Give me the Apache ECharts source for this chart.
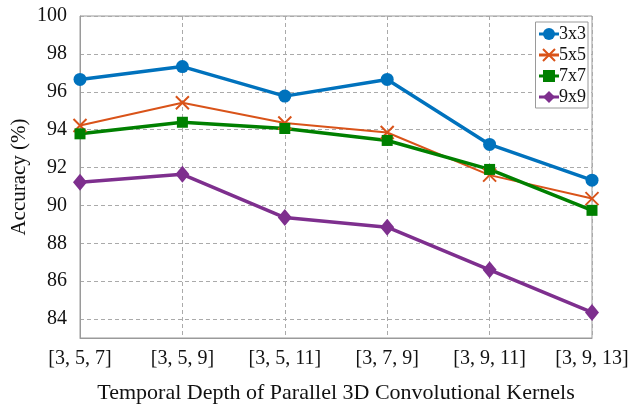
<!DOCTYPE html>
<html><head><meta charset="utf-8">
<script src="https://cdn.jsdelivr.net/npm/echarts@6/dist/echarts.min.js"></script>
<style>html,body{margin:0;padding:0;background:#fff}#c{width:632px;height:404px}</style>
</head><body><div id="c"></div>
<script>
const categories = ['[3, 5, 7]', '[3, 5, 9]', '[3, 5, 11]', '[3, 7, 9]', '[3, 9, 11]', '[3, 9, 13]'];
const s3x3 = [96.65, 97.33, 95.77, 96.65, 93.22, 91.33];
const s5x5 = [94.22, 95.42, 94.35, 93.85, 91.6, 90.36];
const s7x7 = [93.78, 94.39, 94.06, 93.43, 91.9, 89.74];
const s9x9 = [91.22, 91.64, 89.36, 88.85, 86.6, 84.35];
const yTicks = [84, 86, 88, 90, 92, 94, 96, 98, 100];
const font = 'Liberation Serif';
const chart = echarts.init(document.getElementById('c'));
const xPath = 'path://M0,0 L10,10 M10,0 L0,10';
chart.setOption({
  animation: false,
  grid: {left: 80, right: 40, top: 16, bottom: 66, show: true, borderColor: '#9a9a9a', borderWidth: 1, outerBoundsMode: 'none', containLabel: false},
  legend: {
    right: 44, top: 22, orient: 'vertical', itemGap: 3, itemWidth: 20, itemHeight: 15,
    backgroundColor: '#fff', borderColor: '#9a9a9a', borderWidth: 1, padding: [3, 2, 2, 2],
    lineStyle: {width: 3},
    textStyle: {fontFamily: font, fontSize: 18, color: '#111', padding: [0, 0, 0, -5]},
    data: ['3x3', '5x5', '7x7', '9x9']
  },
  xAxis: {
    type: 'category', data: categories, boundaryGap: false,
    name: 'Temporal Depth of Parallel 3D Convolutional Kernels', nameLocation: 'middle', nameGap: 44,
    nameMoveOverlap: false,
    nameTextStyle: {fontFamily: font, fontSize: 22, color: '#111'},
    axisLine: {lineStyle: {color: '#9a9a9a'}}, axisTick: {show: false},
    axisLabel: {fontFamily: font, fontSize: 20, color: '#111', margin: 11, showMaxLabel: true, showMinLabel: true, hideOverlap: false},
    splitLine: {show: true, lineStyle: {color: '#aaaaaa', type: [4, 3]}}
  },
  yAxis: {
    type: 'value', min: 83, max: 100,
    name: 'Accuracy (%)', nameLocation: 'middle', nameGap: 50,
    nameMoveOverlap: false,
    nameTextStyle: {fontFamily: font, fontSize: 21, color: '#111'},
    axisLine: {show: true, lineStyle: {color: '#9a9a9a'}},
    axisTick: {show: false, customValues: yTicks},
    axisLabel: {fontFamily: font, fontSize: 20, color: '#111', margin: 13, customValues: yTicks},
    splitLine: {show: true, lineStyle: {color: '#aaaaaa', type: [4, 3]}}
  },
  series: [
    {name: '3x3', type: 'line', data: s3x3, symbol: 'circle', symbolSize: 13,
     lineStyle: {width: 3.5, color: '#0072BD'}, itemStyle: {color: '#0072BD'}},
    {name: '5x5', type: 'line', data: s5x5, symbol: xPath, symbolSize: 13,
     lineStyle: {width: 2, color: '#D95319'}, itemStyle: {color: '#D95319', borderColor: '#D95319', borderWidth: 2}},
    {name: '7x7', type: 'line', data: s7x7, symbol: 'rect', symbolSize: 11,
     lineStyle: {width: 3.5, color: '#008000'}, itemStyle: {color: '#008000'}},
    {name: '9x9', type: 'line', data: s9x9, symbol: 'diamond', symbolSize: [14, 17],
     lineStyle: {width: 3.5, color: '#7E2F8E'}, itemStyle: {color: '#7E2F8E'}}
  ]
});
</script></body></html>
